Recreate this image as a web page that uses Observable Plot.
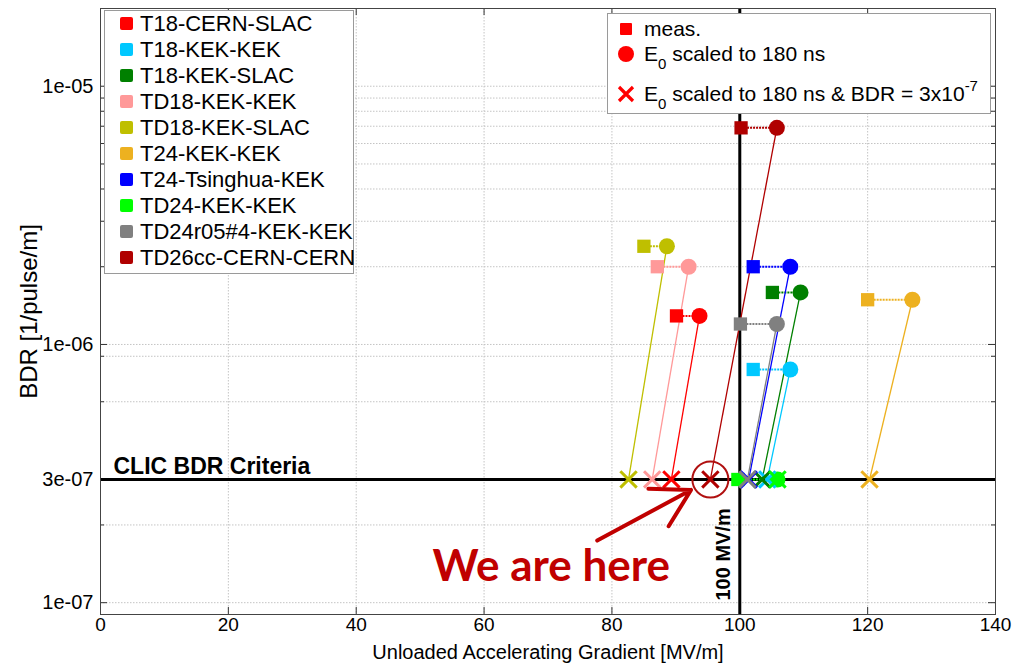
<!DOCTYPE html>
<html><head><meta charset="utf-8">
<script src="https://cdn.jsdelivr.net/npm/d3@7"></script>
<script src="https://cdn.jsdelivr.net/npm/@observablehq/plot@0.6"></script>
<style>
body{margin:0;background:#fff;font-family:"Liberation Sans",Arial,sans-serif;}
#wrap{position:relative;width:1014px;height:665px;overflow:hidden;}
.leg{position:absolute;background:#fff;border:1px solid #9a9a9a;box-sizing:border-box;}
.row{position:absolute;left:0;white-space:nowrap;font-size:22px;line-height:26px;color:#000;}
#rleg .row{font-size:21px;}
.sw{position:absolute;width:13px;height:13px;border-radius:2px;}
.row .t{position:absolute;}
sub{font-size:15px;vertical-align:-8px;line-height:0;}
sup{font-size:15px;vertical-align:10px;line-height:0;}
</style></head><body><div id="wrap"></div>
<script>
// ---- data ----
const names = ["T18-CERN-SLAC","T18-KEK-KEK","T18-KEK-SLAC","TD18-KEK-KEK","TD18-KEK-SLAC","T24-KEK-KEK","T24-Tsinghua-KEK","TD24-KEK-KEK","TD24r05#4-KEK-KEK","TD26cc-CERN-CERN"];
const colors = ["#ff0000","#00c8ff","#008000","#ff9999","#bfbf00","#edb120","#0000ff","#00ff00","#808080","#b00000"];
const measGrad   = [90.1, 102.1, 105.1, 87.1, 85.0, 120.0, 102.1, 99.7, 100.1, 100.2];
const scaledGrad = [93.7, 107.9, 109.5, 92.0, 88.6, 127.0, 107.9, 105.9, 105.8, 105.8];
const critGrad   = [89.3, 104.3, 103.5, 86.3, 82.6, 120.3, 101.4, 105.9, 101.2, 95.4];
const measBDR    = [1.29e-6, 8.0e-7, 1.59e-6, 2.0e-6, 2.4e-6, 1.49e-6, 2.0e-6, 3e-7, 1.2e-6, 6.9e-6];
const criterion = 3e-7;
const gradientLimit = 100;
const xTicks = [0,20,40,60,80,100,120,140];
const xGrid = [20,40,60,80,100,120];
const yLabelTicks = [1e-7,3e-7,1e-6,1e-5];
const yMinor = [2e-7,6e-7,9e-7,2e-6,3e-6,4e-6,5e-6,6e-6,7e-6,8e-6,9e-6];
const yGrid = [1e-7,2e-7,6e-7,9e-7,1e-6,2e-6,3e-6,4e-6,5e-6,6e-6,7e-6,8e-6,9e-6,1e-5];
const arrowStart = [77.7, 1.74e-7];
const hereText = [70.5, 1.37e-7];
const hereIndex = 9;

// ---- layout ----
const W=1014,H=665,mL=100,mR=19,mT=8,mB=51;
const pw=W-mL-mR, ph=H-mT-mB;
const rows = names.map((name,i)=>({name,color:colors[i],meas:measGrad[i],scaled:scaledGrad[i],crit:critGrad[i],bdr:measBDR[i]}));
const fmt = d => { const [m,e]=d.toExponential(0).split("e"); const ex=+e; return m+"e"+(ex<0?"-":"+")+String(Math.abs(ex)).padStart(2,"0"); };
const tickStroke = "#333";

const plot = Plot.plot({
  width:W,height:H,marginLeft:mL,marginRight:mR,marginTop:mT,marginBottom:mB,
  style:{fontFamily:'"Liberation Sans",Arial,sans-serif',fontSize:"20px",color:"#000",background:"#fff"},
  x:{domain:[0,140]},
  y:{type:"log",domain:[9e-8,2e-5]},
  marks:[
    Plot.ruleX(xGrid,{stroke:"#c4c4c4",strokeDasharray:"1.5,1.5"}),
    Plot.ruleY(yGrid,{stroke:"#c4c4c4",strokeDasharray:"1.5,1.5"}),
    Plot.tickX(xTicks,{insetTop:ph-7,stroke:tickStroke}),
    Plot.tickX(xTicks,{insetBottom:ph-7,stroke:tickStroke}),
    Plot.tickY(yLabelTicks,{insetRight:pw-7,stroke:tickStroke}),
    Plot.tickY(yLabelTicks,{insetLeft:pw-7,stroke:tickStroke}),
    Plot.tickY(yMinor,{insetRight:pw-4,stroke:tickStroke}),
    Plot.tickY(yMinor,{insetLeft:pw-4,stroke:tickStroke}),
    Plot.axisX({ticks:xTicks,tickSize:0,tickPadding:3,fontSize:19,label:null}),
    Plot.axisX({ticks:[],tickSize:0,fontSize:20,label:"Unloaded Accelerating Gradient [MV/m]",labelAnchor:"center",labelArrow:"none",labelOffset:44}),
    Plot.axisY({ticks:yLabelTicks,tickSize:0,tickPadding:7,tickFormat:fmt,fontSize:20,label:null}),
    Plot.axisY({ticks:[],tickSize:0,fontSize:24,label:"BDR [1/pulse/m]",labelAnchor:"center",labelArrow:"none",labelOffset:81,dy:8}),
    Plot.ruleY([criterion],{stroke:"#000",strokeWidth:3}),
    Plot.ruleX([gradientLimit],{stroke:"#000",strokeWidth:3}),
    Plot.link(rows,{x1:"meas",x2:"scaled",y1:"bdr",y2:"bdr",stroke:"color",strokeDasharray:"2,1",strokeWidth:2}),
    Plot.link(rows,{x1:"scaled",y1:"bdr",x2:"crit",y2:()=>criterion,stroke:"color",strokeWidth:1.3}),
    Plot.dot(rows,{x:"meas",y:"bdr",symbol:"square",fill:"color",r:7.5}),
    Plot.dot(rows,{x:"scaled",y:"bdr",symbol:"circle",fill:"color",r:8}),
    Plot.dot(rows,{x:"crit",y:()=>criterion,symbol:"times",stroke:"color",strokeWidth:3,r:7.5}),
    Plot.frame({stroke:"#444"}),
    Plot.text(["CLIC BDR Criteria"],{frameAnchor:"left",y:()=>criterion,dx:13,dy:-13,textAnchor:"start",fontWeight:"bold",fontSize:23,fill:"#000"}),
    Plot.text(["100 MV/m"],{x:()=>gradientLimit,frameAnchor:"bottom",dx:-10,dy:-14,rotate:-90,textAnchor:"start",fontWeight:"bold",fontSize:20,fill:"#000"}),
    Plot.dot([rows[hereIndex]],{x:"crit",y:()=>criterion,r:18,stroke:"#b01010",strokeWidth:2,fill:"none"}),
    Plot.arrow([rows[hereIndex]],{x1:()=>arrowStart[0],y1:()=>arrowStart[1],x2:"crit",y2:()=>criterion,insetEnd:22,stroke:"#c00000",strokeWidth:4,headLength:16}),
    Plot.text(["We are here"],{x:()=>hereText[0],y:()=>hereText[1],fontSize:44,fontWeight:"bold",fill:"#c00000",fontFamily:"Lato, 'Open Sans', sans-serif"})
  ]
});
const wrap = document.getElementById("wrap");
wrap.appendChild(plot);

// left legend
const L = document.createElement("div");
L.className="leg";
Object.assign(L.style,{left:"104px",top:"10px",width:"250px",height:"264px"});
names.forEach((n,i)=>{
  const r=document.createElement("div"); r.className="row";
  r.style.top=(i*26)+"px"; r.style.width="100%"; r.style.height="26px";
  const s=document.createElement("div"); s.className="sw";
  Object.assign(s.style,{left:"15px",top:"6px",background:colors[i]});
  const t=document.createElement("span"); t.className="t"; t.style.left="35px"; t.style.top="0px"; t.textContent=n;
  r.appendChild(s); r.appendChild(t); L.appendChild(r);
});
wrap.appendChild(L);

// right legend
const R = document.createElement("div");
R.className="leg"; R.id="rleg";
Object.assign(R.style,{left:"607px",top:"13px",width:"384px",height:"101px"});
const sym = (kind)=>{
  const c = "#ff0000";
  if(kind==="sq") return `<svg width="20" height="20" style="position:absolute;left:8px;top:3px"><rect x="4" y="4" width="12" height="12" rx="1" fill="${c}"/></svg>`;
  if(kind==="ci") return `<svg width="20" height="20" style="position:absolute;left:8px;top:3px"><circle cx="10" cy="10" r="8" fill="${c}"/></svg>`;
  return `<svg width="20" height="20" style="position:absolute;left:8px;top:3px"><path d="M3,3L17,17M17,3L3,17" stroke="${c}" stroke-width="3.2"/></svg>`;
};
const rl = [
  {k:"sq",top:2,html:"meas."},
  {k:"ci",top:27,html:"E<sub>0</sub> scaled to 180 ns"},
  {k:"x",top:67,html:"E<sub>0</sub> scaled to 180 ns &amp; BDR = 3x10<sup>-7</sup>"}
];
rl.forEach(o=>{
  const r=document.createElement("div"); r.className="row";
  r.style.top=o.top+"px"; r.style.width="100%"; r.style.height="26px";
  r.innerHTML = sym(o.k) + `<span class="t" style="left:36px;top:0">${o.html}</span>`;
  R.appendChild(r);
});
wrap.appendChild(R);
</script>
</body></html>
